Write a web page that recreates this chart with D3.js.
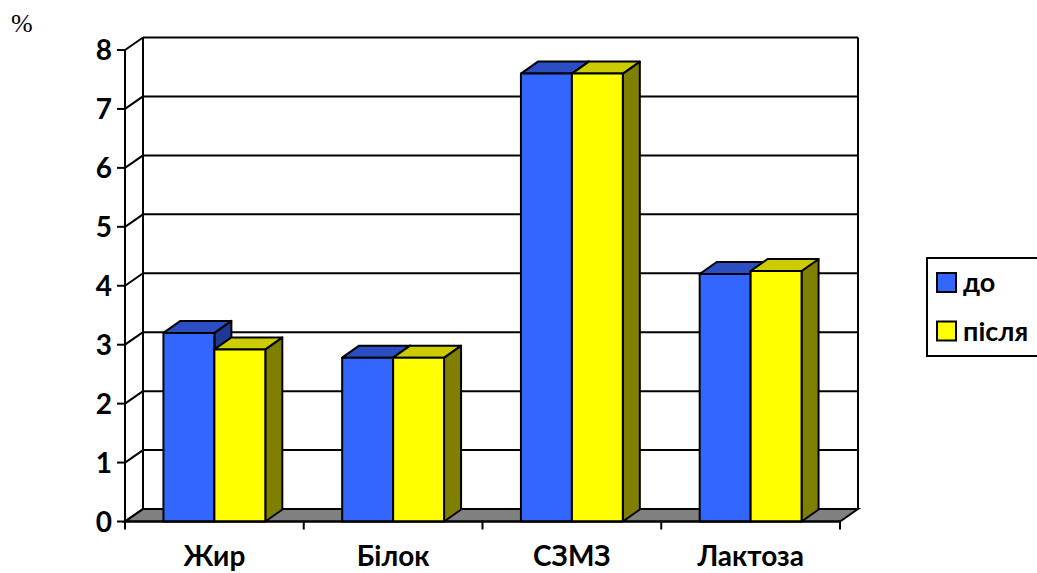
<!DOCTYPE html>
<html>
<head>
<meta charset="utf-8">
<script src="https://cdn.jsdelivr.net/npm/d3@7"></script>
<style>
  html, body { margin: 0; padding: 0; background: #fff; }
  svg { display: block; }
  text { font-family: Lato, "Open Sans", sans-serif; font-weight: bold; fill: #000; }
</style>
</head>
<body>
<svg id="chart" width="1037" height="573"></svg>
<script>
// Milk composition before / after (%)
const categories = ["Жир", "Білок", "СЗМЗ", "Лактоза"];
const seriesNames = ["до", "після"];
const valuesBefore = [3.2, 2.78, 7.6, 4.2];
const valuesAfter = [2.92, 2.78, 7.6, 4.25];
const yTicks = [0, 1, 2, 3, 4, 5, 6, 7, 8];

const series = [valuesBefore, valuesAfter];
const colors = [
  { front: "#3366FF", top: "#2B4FC2", side: "#1E3A96" },
  { front: "#FFFF00", top: "#CCCC00", side: "#808000" }
];

const svg = d3.select("#chart");

// plot frame (front plane) and the 3D depth offset of the walls
const plotLeft = 125, plotRight = 840, plotBottom = 521.5, plotTop = 50;
const DX = 18, DY = -12.5;
const BDX = 17, BDY = -12; // bar depth

const y = d3.scaleLinear().domain([0, 8]).range([plotBottom, plotTop]);
const x0 = d3.scaleBand().domain(categories).range([plotLeft, plotRight])
  .paddingInner(0.43).paddingOuter(0.215);
const xStep = d3.scaleBand().domain(categories).range([plotLeft, plotRight]).padding(0);
const x1 = d3.scaleBand().domain(seriesNames).range([0, x0.bandwidth()]);

const line = d3.line();

// floor
svg.append("path")
  .attr("d", line([[plotLeft, plotBottom], [plotRight, plotBottom], [plotRight + DX, plotBottom + DY], [plotLeft + DX, plotBottom + DY]]) + "Z")
  .attr("fill", "#808080").attr("stroke", "#000").attr("stroke-width", 2);

// back wall gridlines
const grid = svg.append("g").attr("stroke", "#000").attr("stroke-width", 2).attr("fill", "none");
yTicks.forEach(t => {
  const yy = y(t);
  grid.append("line").attr("x1", plotLeft + DX).attr("x2", plotRight + DX)
    .attr("y1", yy + DY).attr("y2", yy + DY);
  grid.append("line").attr("x1", plotLeft).attr("x2", plotLeft + DX)
    .attr("y1", yy).attr("y2", yy + DY);
});
// wall edges
grid.append("line").attr("x1", plotLeft + DX).attr("x2", plotLeft + DX).attr("y1", y(8) + DY).attr("y2", y(0) + DY);
grid.append("line").attr("x1", plotRight + DX).attr("x2", plotRight + DX).attr("y1", y(8) + DY).attr("y2", y(0) + DY);

// bars
categories.forEach((cat, ci) => {
  series.forEach((vals, si) => {
    const v = vals[ci];
    const bx = x0(cat) + x1(seriesNames[si]);
    const bw = x1.bandwidth();
    const yt = y(v), yb = y(0);
    const c = colors[si];
    const g = svg.append("g").attr("stroke", "#000").attr("stroke-width", 2).attr("stroke-linejoin", "round");
    // side face
    g.append("path").attr("fill", c.side)
      .attr("d", line([[bx + bw, yt], [bx + bw + BDX, yt + BDY], [bx + bw + BDX, yb + BDY], [bx + bw, yb]]) + "Z");
    // top face
    g.append("path").attr("fill", c.top)
      .attr("d", line([[bx, yt], [bx + BDX, yt + BDY], [bx + bw + BDX, yt + BDY], [bx + bw, yt]]) + "Z");
    // front face
    g.append("rect").attr("fill", c.front)
      .attr("x", bx).attr("y", yt).attr("width", bw).attr("height", yb - yt);
  });
});

// front axis line, front floor edge and ticks
const axes = svg.append("g").attr("stroke", "#000").attr("stroke-width", 2);
axes.append("line").attr("x1", plotLeft).attr("x2", plotLeft).attr("y1", y(8)).attr("y2", plotBottom);
axes.append("line").attr("x1", plotLeft).attr("x2", plotRight).attr("y1", plotBottom).attr("y2", plotBottom);
yTicks.forEach(t => {
  axes.append("line").attr("x1", plotLeft - 8).attr("x2", plotLeft).attr("y1", y(t)).attr("y2", y(t));
});
const catEdges = categories.map(c => xStep(c)).concat([plotRight]);
catEdges.forEach(xx => {
  axes.append("line").attr("x1", xx).attr("x2", xx).attr("y1", plotBottom).attr("y2", plotBottom + 8);
});

// y tick labels
svg.append("g").selectAll("text").data(yTicks).join("text")
  .attr("x", 112).attr("y", d => y(d)).attr("dy", "0.36em")
  .attr("text-anchor", "end").attr("font-size", 28)
  .text(d => d);

// category labels
svg.append("g").selectAll("text").data(categories).join("text")
  .attr("x", d => xStep(d) + xStep.bandwidth() / 2).attr("y", 566)
  .attr("text-anchor", "middle").attr("font-size", 28)
  .text(d => d);

// unit label
svg.append("text").attr("x", 11).attr("y", 32)
  .style("font-family", "'Liberation Serif', serif").style("font-weight", "normal")
  .attr("font-size", 26).text("%");

// legend
const lg = svg.append("g");
lg.append("rect").attr("x", 927).attr("y", 258).attr("width", 130).attr("height", 98)
  .attr("fill", "#fff").attr("stroke", "#000").attr("stroke-width", 2);
seriesNames.forEach((s, i) => {
  const yy = 273 + i * 48.5;
  lg.append("rect").attr("x", 937).attr("y", yy).attr("width", 19).attr("height", 19)
    .attr("fill", colors[i].front).attr("stroke", "#000").attr("stroke-width", 2);
  lg.append("text").attr("x", 963).attr("y", yy + 19).attr("font-size", 27).text(s);
});
</script>
</body>
</html>
